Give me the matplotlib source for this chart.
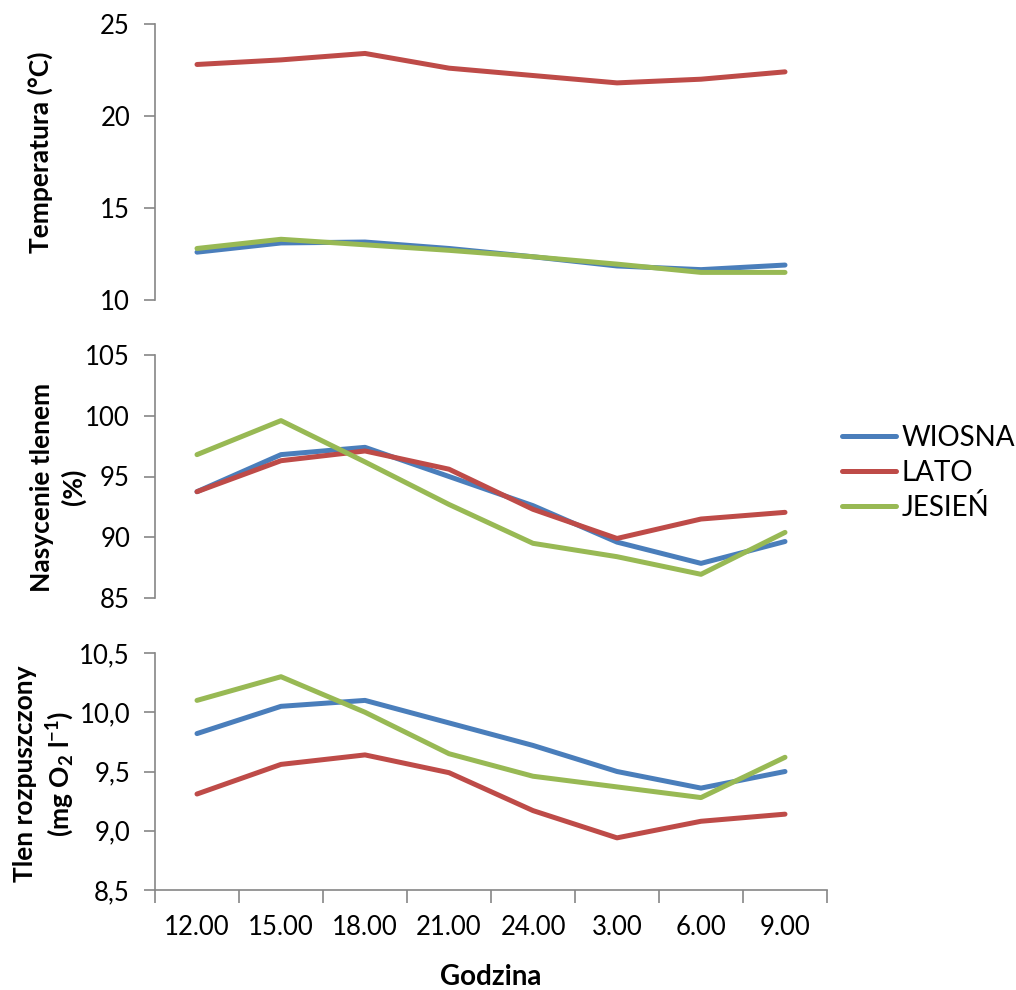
import numpy as np
import matplotlib
matplotlib.use("Agg")
import matplotlib.pyplot as plt

plt.rcParams['font.family'] = ['Lato', 'DejaVu Sans']
plt.rcParams['mathtext.fontset'] = 'custom'
plt.rcParams['mathtext.rm'] = 'Lato:bold'
plt.rcParams['mathtext.it'] = 'Lato:bold'
plt.rcParams['mathtext.bf'] = 'Lato:bold'
plt.rcParams['mathtext.default'] = 'rm'

hours = ["12.00", "15.00", "18.00", "21.00", "24.00", "3.00", "6.00", "9.00"]
seasons = ["WIOSNA", "LATO", "JESIEŃ"]
colors = ["#4A7EBB", "#BE4B48", "#98B954"]

temp_wiosna = [12.6, 13.1, 13.15, 12.8, 12.35, 11.85, 11.65, 11.9]
temp_lato = [22.8, 23.05, 23.4, 22.6, 22.2, 21.8, 22.0, 22.4]
temp_jesien = [12.8, 13.3, 13.0, 12.7, 12.35, 11.95, 11.5, 11.5]

sat_wiosna = [93.75, 96.8, 97.4, 95.0, 92.6, 89.6, 87.85, 89.65]
sat_lato = [93.75, 96.3, 97.1, 95.6, 92.3, 89.9, 91.5, 92.05]
sat_jesien = [96.8, 99.6, 96.2, 92.7, 89.5, 88.4, 86.95, 90.4]

do_wiosna = [9.82, 10.05, 10.1, 9.91, 9.72, 9.5, 9.36, 9.5]
do_lato = [9.31, 9.56, 9.64, 9.49, 9.17, 8.94, 9.08, 9.14]
do_jesien = [10.1, 10.3, 10.0, 9.65, 9.46, 9.37, 9.28, 9.62]

panels = [
    dict(series=[temp_wiosna, temp_lato, temp_jesien], ylim=(10, 25),
         ticks=[10, 15, 20, 25], fmt="{:.0f}",
         label="Temperatura (°C)"),
    dict(series=[sat_wiosna, sat_lato, sat_jesien], ylim=(85, 105),
         ticks=[85, 90, 95, 100, 105], fmt="{:.0f}",
         label="Nasycenie tlenem\n(%)"),
    dict(series=[do_wiosna, do_lato, do_jesien], ylim=(8.5, 10.5),
         ticks=[8.5, 9.0, 9.5, 10.0, 10.5], fmt="{:.1f}",
         label="Tlen rozpuszczony\n(mg O$_2$ l$^{-1}$)"),
]

W, H = 1016, 990
fig = plt.figure(figsize=(W / 100, H / 100), dpi=100)

left, right = 155 / W, 827 / W
boxes = [(24, 300), (355, 598), (653, 890)]
label_pos = [(-0.152, 0.536), (-0.103, 0.457), (-0.117, 0.49)]
spine_gray = "#868686"

x = np.arange(len(hours))
axes = []
for i, (p, (top_px, bot_px)) in enumerate(zip(panels, boxes)):
    ax = fig.add_axes([left, 1 - bot_px / H, right - left, (bot_px - top_px) / H])
    axes.append(ax)
    for vals, c, name in zip(p["series"], colors, seasons):
        ax.plot(x, vals, color=c, lw=3.6, solid_capstyle='round',
                solid_joinstyle='round', label=name)
    ax.set_xlim(-0.5, len(hours) - 0.5)
    ax.set_ylim(*p["ylim"])
    ax.set_yticks(p["ticks"])
    ax.set_yticklabels([p["fmt"].format(t).replace(".", ",") for t in p["ticks"]])
    ax.tick_params(axis='y', direction='out', length=8, width=1.2,
                   color=spine_gray, labelsize=18.5, pad=10, labelcolor='black')
    for s in ["top", "right"]:
        ax.spines[s].set_visible(False)
    ax.spines["left"].set_color(spine_gray)
    ax.spines["left"].set_linewidth(1.2)
    ax.set_ylabel(p["label"], fontsize=19, fontweight='bold', linespacing=1.3)
    ax.yaxis.set_label_coords(*label_pos[i])
    if i < 2:
        ax.spines["bottom"].set_visible(False)
        ax.set_xticks([])
    else:
        ax.spines["bottom"].set_color(spine_gray)
        ax.spines["bottom"].set_linewidth(1.2)
        ax.set_xticks(np.arange(-0.5, len(hours), 1.0))
        ax.set_xticklabels([])
        ax.tick_params(axis='x', which='major', direction='out', length=9,
                       width=1.2, color=spine_gray)
        ax.set_xticks(x, minor=True)
        ax.set_xticklabels(hours, minor=True)
        ax.tick_params(axis='x', which='minor', length=0, labelsize=18.5, pad=18)

# horizontal axis title, centred under the plotting area
fig.text((left + right) / 2, 1 - 977 / H, "Godzina", fontsize=20,
         fontweight='bold', ha='center', va='center')

handles, labels = axes[1].get_legend_handles_labels()
fig.legend(handles, labels, loc='center left', bbox_to_anchor=(842 / W, 1 - 473 / H),
           frameon=False, fontsize=20, handlelength=1.95, handletextpad=0.2,
           labelspacing=0.3, borderpad=0, borderaxespad=0)

fig.savefig("out.png", dpi=100, facecolor="white")
